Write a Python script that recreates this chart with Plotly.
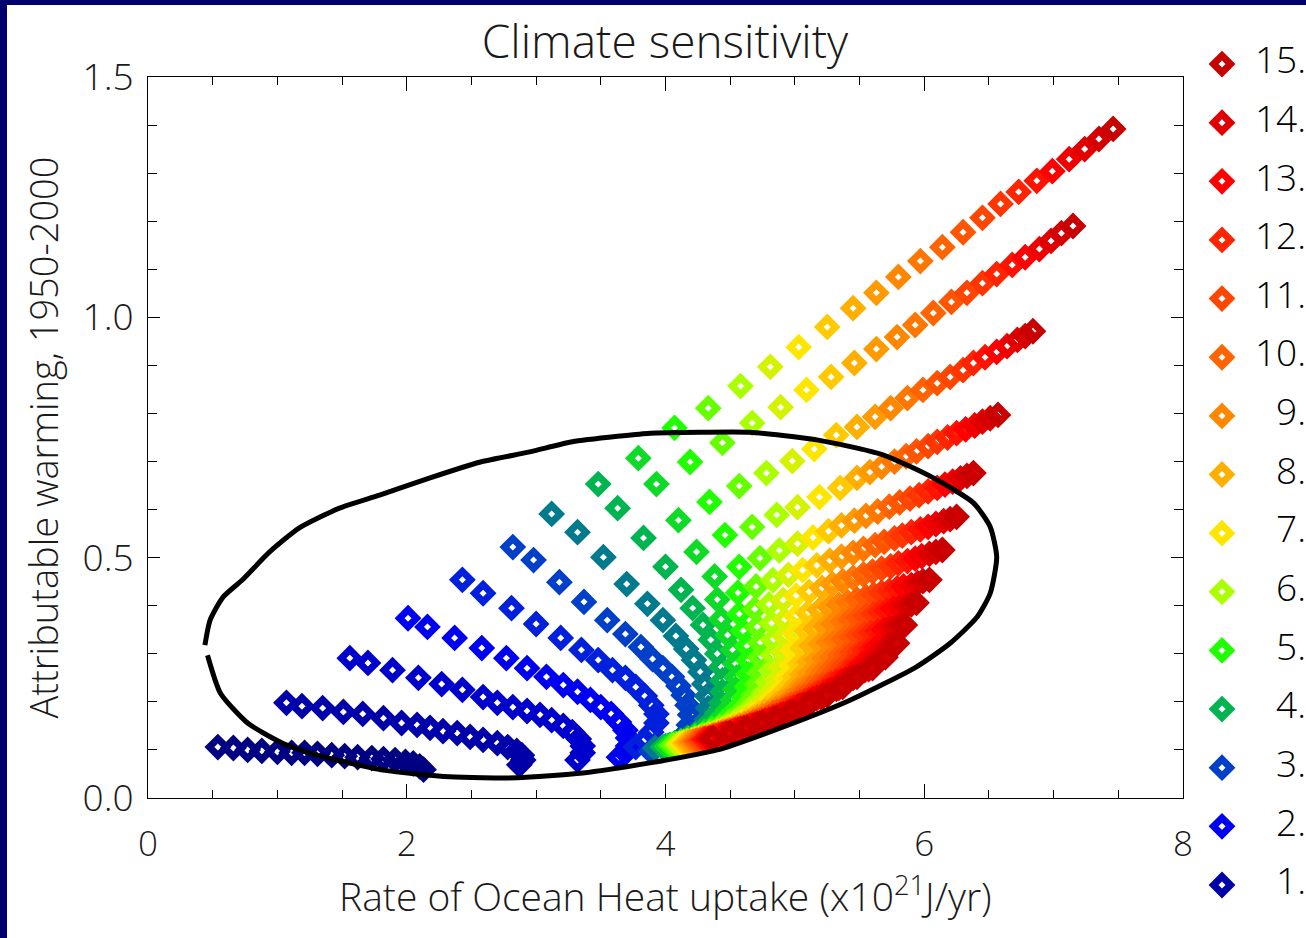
import plotly.graph_objects as go

# ---------------- data ----------------
sensitivity = [0.5, 1.0, 1.5, 2.0, 2.5, 3.0, 3.5, 4.0, 4.5, 5.0, 5.5, 6.0, 6.5, 7.0, 7.5,
               8.0, 8.5, 9.0, 9.5, 10.0, 10.5, 11.0, 11.5, 12.0, 12.5, 13.0, 13.5, 14.0, 14.5, 15.0]

x_s0_5 = [0.54, 0.66, 0.77, 0.88, 1.00, 1.11, 1.21, 1.31, 1.42, 1.52, 1.62, 1.73, 1.82, 1.91, 1.99, 2.05, 2.10, 2.13]
y_s0_5 = [0.106, 0.104, 0.100, 0.098, 0.096, 0.094, 0.094, 0.092, 0.089, 0.087, 0.085, 0.083, 0.081, 0.079, 0.075, 0.072, 0.066, 0.059]
x_s1_0 = [1.07, 1.19, 1.35, 1.51, 1.66, 1.82, 1.96, 2.08, 2.18, 2.28, 2.39, 2.49, 2.59, 2.70, 2.78, 2.85, 2.89, 2.90, 2.87]
y_s1_0 = [0.198, 0.191, 0.187, 0.179, 0.175, 0.166, 0.156, 0.152, 0.146, 0.139, 0.135, 0.127, 0.121, 0.114, 0.106, 0.098, 0.089, 0.079, 0.069]
x_s1_5 = [1.56, 1.70, 1.89, 2.09, 2.27, 2.43, 2.59, 2.70, 2.82, 2.93, 3.03, 3.12, 3.21, 3.28, 3.33, 3.36, 3.36, 3.32]
y_s1_5 = [0.291, 0.281, 0.266, 0.250, 0.237, 0.225, 0.210, 0.198, 0.189, 0.181, 0.173, 0.162, 0.150, 0.137, 0.123, 0.108, 0.094, 0.079]
x_s2_0 = [2.01, 2.16, 2.37, 2.58, 2.77, 2.93, 3.08, 3.21, 3.32, 3.42, 3.50, 3.58, 3.64, 3.69, 3.71, 3.71, 3.69, 3.64]
y_s2_0 = [0.374, 0.356, 0.333, 0.312, 0.291, 0.270, 0.252, 0.235, 0.221, 0.204, 0.189, 0.175, 0.158, 0.141, 0.125, 0.108, 0.094, 0.085]
x_s2_5 = [2.43, 2.59, 2.81, 3.00, 3.19, 3.35, 3.48, 3.59, 3.69, 3.77, 3.84, 3.89, 3.93, 3.93, 3.89, 3.84, 3.77]
y_s2_5 = [0.454, 0.426, 0.395, 0.362, 0.333, 0.308, 0.287, 0.266, 0.250, 0.231, 0.212, 0.193, 0.175, 0.156, 0.137, 0.121, 0.106]
x_s3_0 = [2.82, 2.98, 3.18, 3.37, 3.55, 3.69, 3.81, 3.90, 3.98, 4.05, 4.10, 4.14, 4.17, 4.19, 4.18, 4.15, 4.09, 4.00, 3.89]
y_s3_0 = [0.522, 0.495, 0.449, 0.408, 0.370, 0.341, 0.314, 0.289, 0.270, 0.252, 0.233, 0.214, 0.193, 0.173, 0.152, 0.133, 0.116, 0.104, 0.096]
x_s3_5 = [3.12, 3.32, 3.52, 3.70, 3.86, 3.98, 4.08, 4.16, 4.22, 4.27, 4.30, 4.32, 4.33, 4.32, 4.29, 4.23, 4.13, 4.02, 3.92]
y_s3_5 = [0.591, 0.553, 0.501, 0.445, 0.404, 0.370, 0.337, 0.310, 0.287, 0.262, 0.237, 0.212, 0.187, 0.164, 0.144, 0.127, 0.114, 0.108, 0.104]
x_s4_0 = [3.48, 3.63, 3.83, 4.00, 4.12, 4.21, 4.29, 4.35, 4.40, 4.43, 4.44, 4.44, 4.43, 4.40, 4.35, 4.30, 4.23, 4.17, 4.12, 4.07, 4.03, 4.00, 3.98]
y_s4_0 = [0.653, 0.603, 0.541, 0.481, 0.433, 0.395, 0.360, 0.329, 0.300, 0.273, 0.245, 0.221, 0.198, 0.177, 0.160, 0.146, 0.133, 0.125, 0.119, 0.114, 0.110, 0.108, 0.106]
x_s4_5 = [3.79, 3.93, 4.10, 4.24, 4.38, 4.40, 4.43, 4.48, 4.52, 4.54, 4.55, 4.54, 4.52, 4.48, 4.43, 4.37, 4.30, 4.23, 4.18, 4.12, 4.08, 4.04, 4.01]
y_s4_5 = [0.707, 0.653, 0.578, 0.512, 0.461, 0.413, 0.372, 0.339, 0.308, 0.280, 0.251, 0.227, 0.204, 0.183, 0.166, 0.151, 0.138, 0.129, 0.123, 0.117, 0.113, 0.110, 0.107]
x_s5_0 = [4.07, 4.19, 4.34, 4.46, 4.57, 4.56, 4.57, 4.60, 4.63, 4.64, 4.64, 4.63, 4.61, 4.56, 4.50, 4.44, 4.36, 4.29, 4.23, 4.17, 4.12, 4.08, 4.04]
y_s5_0 = [0.770, 0.699, 0.616, 0.547, 0.481, 0.427, 0.383, 0.348, 0.316, 0.286, 0.257, 0.232, 0.209, 0.188, 0.171, 0.156, 0.143, 0.133, 0.126, 0.120, 0.115, 0.112, 0.109]
x_s5_5 = [4.33, 4.44, 4.57, 4.67, 4.73, 4.70, 4.69, 4.71, 4.73, 4.73, 4.73, 4.71, 4.68, 4.63, 4.57, 4.50, 4.42, 4.34, 4.28, 4.22, 4.16, 4.11, 4.06]
y_s5_5 = [0.811, 0.739, 0.649, 0.564, 0.499, 0.440, 0.393, 0.356, 0.323, 0.292, 0.261, 0.236, 0.213, 0.193, 0.175, 0.161, 0.147, 0.137, 0.129, 0.123, 0.118, 0.114, 0.110]
x_s6_0 = [4.58, 4.67, 4.78, 4.86, 4.88, 4.83, 4.80, 4.82, 4.83, 4.83, 4.82, 4.79, 4.76, 4.70, 4.63, 4.56, 4.48, 4.40, 4.33, 4.26, 4.20, 4.14, 4.09]
y_s6_0 = [0.857, 0.780, 0.676, 0.589, 0.515, 0.453, 0.403, 0.364, 0.329, 0.297, 0.266, 0.241, 0.218, 0.198, 0.180, 0.165, 0.151, 0.140, 0.132, 0.126, 0.120, 0.116, 0.111]
x_s6_5 = [4.81, 4.89, 4.98, 5.02, 5.02, 4.95, 4.91, 4.92, 4.92, 4.91, 4.89, 4.86, 4.82, 4.76, 4.69, 4.62, 4.53, 4.44, 4.37, 4.30, 4.23, 4.17, 4.11]
y_s6_5 = [0.897, 0.813, 0.701, 0.605, 0.529, 0.464, 0.412, 0.371, 0.336, 0.302, 0.271, 0.245, 0.222, 0.202, 0.184, 0.169, 0.155, 0.143, 0.135, 0.128, 0.122, 0.117, 0.112]
x_s7_0 = [5.03, 5.09, 5.15, 5.19, 5.14, 5.06, 5.01, 5.01, 5.00, 4.98, 4.97, 4.93, 4.89, 4.82, 4.75, 4.67, 4.58, 4.49, 4.41, 4.34, 4.26, 4.20, 4.13]
y_s7_0 = [0.938, 0.849, 0.726, 0.626, 0.542, 0.474, 0.421, 0.378, 0.341, 0.307, 0.275, 0.249, 0.226, 0.206, 0.188, 0.173, 0.158, 0.146, 0.137, 0.130, 0.124, 0.119, 0.113]
x_s7_5 = [5.25, 5.28, 5.32, 5.35, 5.26, 5.17, 5.11, 5.10, 5.09, 5.06, 5.04, 5.00, 4.95, 4.88, 4.80, 4.72, 4.63, 4.53, 4.45, 4.37, 4.30, 4.22, 4.15]
y_s7_5 = [0.980, 0.876, 0.755, 0.645, 0.555, 0.484, 0.429, 0.385, 0.347, 0.312, 0.279, 0.253, 0.230, 0.210, 0.192, 0.176, 0.162, 0.149, 0.140, 0.133, 0.126, 0.120, 0.114]
x_s8_0 = [5.45, 5.46, 5.48, 5.48, 5.36, 5.27, 5.21, 5.19, 5.16, 5.13, 5.11, 5.06, 5.01, 4.94, 4.86, 4.77, 4.67, 4.57, 4.49, 4.41, 4.33, 4.25, 4.17]
y_s8_0 = [1.019, 0.905, 0.772, 0.666, 0.567, 0.494, 0.437, 0.391, 0.352, 0.316, 0.283, 0.257, 0.234, 0.214, 0.195, 0.180, 0.165, 0.152, 0.142, 0.135, 0.128, 0.121, 0.115]
x_s8_5 = [5.63, 5.63, 5.62, 5.58, 5.46, 5.36, 5.29, 5.27, 5.24, 5.20, 5.17, 5.12, 5.06, 4.99, 4.90, 4.82, 4.71, 4.61, 4.52, 4.44, 4.36, 4.27, 4.19]
y_s8_5 = [1.051, 0.934, 0.793, 0.678, 0.577, 0.502, 0.445, 0.397, 0.357, 0.320, 0.287, 0.260, 0.237, 0.218, 0.198, 0.183, 0.168, 0.154, 0.144, 0.137, 0.130, 0.123, 0.116]
x_s9_0 = [5.80, 5.79, 5.74, 5.67, 5.55, 5.45, 5.37, 5.34, 5.30, 5.26, 5.23, 5.18, 5.11, 5.03, 4.95, 4.86, 4.75, 4.64, 4.55, 4.47, 4.38, 4.29, 4.21]
y_s9_0 = [1.084, 0.959, 0.811, 0.689, 0.587, 0.510, 0.451, 0.402, 0.362, 0.324, 0.290, 0.263, 0.240, 0.221, 0.201, 0.186, 0.171, 0.157, 0.146, 0.139, 0.131, 0.124, 0.117]
x_s9_5 = [5.97, 5.93, 5.87, 5.77, 5.64, 5.53, 5.45, 5.41, 5.37, 5.32, 5.29, 5.23, 5.16, 5.08, 4.99, 4.90, 4.79, 4.68, 4.58, 4.50, 4.41, 4.31, 4.23]
y_s9_5 = [1.117, 0.984, 0.832, 0.700, 0.596, 0.518, 0.458, 0.407, 0.366, 0.328, 0.293, 0.266, 0.243, 0.224, 0.205, 0.189, 0.174, 0.159, 0.148, 0.140, 0.133, 0.125, 0.118]
x_s10_0 = [6.14, 6.07, 5.99, 5.86, 5.73, 5.62, 5.53, 5.48, 5.43, 5.38, 5.35, 5.28, 5.21, 5.12, 5.03, 4.94, 4.83, 4.71, 4.62, 4.53, 4.43, 4.34, 4.24]
y_s10_0 = [1.146, 1.009, 0.849, 0.711, 0.606, 0.526, 0.465, 0.413, 0.371, 0.331, 0.297, 0.269, 0.246, 0.227, 0.208, 0.192, 0.177, 0.161, 0.150, 0.142, 0.134, 0.126, 0.119]
x_s10_5 = [6.30, 6.21, 6.10, 5.94, 5.81, 5.69, 5.60, 5.55, 5.49, 5.44, 5.40, 5.33, 5.26, 5.17, 5.07, 4.97, 4.86, 4.74, 4.65, 4.55, 4.46, 4.36, 4.26]
y_s10_5 = [1.177, 1.032, 0.863, 0.721, 0.615, 0.533, 0.471, 0.418, 0.375, 0.335, 0.300, 0.272, 0.249, 0.230, 0.210, 0.194, 0.179, 0.163, 0.152, 0.144, 0.136, 0.127, 0.119]
x_s11_0 = [6.45, 6.33, 6.20, 6.03, 5.89, 5.77, 5.67, 5.61, 5.55, 5.49, 5.45, 5.38, 5.31, 5.21, 5.11, 5.01, 4.90, 4.78, 4.67, 4.58, 4.48, 4.37, 4.27]
y_s11_0 = [1.207, 1.051, 0.876, 0.732, 0.623, 0.540, 0.477, 0.423, 0.379, 0.338, 0.303, 0.275, 0.252, 0.233, 0.213, 0.197, 0.182, 0.165, 0.154, 0.145, 0.137, 0.128, 0.120]
x_s11_5 = [6.59, 6.45, 6.30, 6.10, 5.96, 5.83, 5.74, 5.67, 5.61, 5.54, 5.50, 5.43, 5.35, 5.25, 5.15, 5.04, 4.93, 4.80, 4.70, 4.60, 4.50, 4.39, 4.29]
y_s11_5 = [1.236, 1.071, 0.890, 0.741, 0.630, 0.546, 0.482, 0.427, 0.383, 0.341, 0.305, 0.277, 0.254, 0.236, 0.216, 0.199, 0.184, 0.167, 0.156, 0.147, 0.138, 0.129, 0.121]
x_s12_0 = [6.73, 6.56, 6.38, 6.18, 6.03, 5.90, 5.80, 5.73, 5.66, 5.59, 5.54, 5.47, 5.39, 5.28, 5.18, 5.08, 4.96, 4.83, 4.73, 4.63, 4.52, 4.41, 4.30]
y_s12_0 = [1.261, 1.090, 0.905, 0.750, 0.638, 0.553, 0.488, 0.431, 0.387, 0.344, 0.308, 0.280, 0.257, 0.238, 0.218, 0.202, 0.186, 0.169, 0.157, 0.148, 0.139, 0.130, 0.122]
x_s12_5 = [6.87, 6.68, 6.47, 6.25, 6.10, 5.97, 5.87, 5.79, 5.71, 5.64, 5.59, 5.52, 5.43, 5.32, 5.22, 5.11, 4.99, 4.86, 4.75, 4.65, 4.54, 4.43, 4.31]
y_s12_5 = [1.284, 1.109, 0.917, 0.759, 0.645, 0.559, 0.493, 0.436, 0.390, 0.347, 0.311, 0.282, 0.259, 0.241, 0.221, 0.204, 0.188, 0.171, 0.159, 0.150, 0.141, 0.131, 0.122]
x_s13_0 = [6.99, 6.78, 6.56, 6.32, 6.16, 6.03, 5.93, 5.84, 5.76, 5.69, 5.63, 5.55, 5.46, 5.36, 5.25, 5.14, 5.02, 4.89, 4.77, 4.67, 4.56, 4.44, 4.33]
y_s13_0 = [1.304, 1.125, 0.928, 0.767, 0.652, 0.564, 0.498, 0.440, 0.394, 0.350, 0.313, 0.285, 0.262, 0.243, 0.223, 0.206, 0.190, 0.173, 0.161, 0.151, 0.142, 0.132, 0.123]
x_s13_5 = [7.12, 6.89, 6.64, 6.39, 6.22, 6.09, 5.98, 5.90, 5.81, 5.73, 5.68, 5.59, 5.50, 5.39, 5.28, 5.17, 5.04, 4.91, 4.80, 4.69, 4.58, 4.46, 4.34]
y_s13_5 = [1.329, 1.142, 0.940, 0.775, 0.658, 0.570, 0.503, 0.443, 0.397, 0.353, 0.315, 0.287, 0.264, 0.246, 0.225, 0.208, 0.192, 0.174, 0.162, 0.152, 0.143, 0.133, 0.123]
x_s14_0 = [7.24, 6.98, 6.72, 6.45, 6.28, 6.15, 6.04, 5.95, 5.86, 5.77, 5.72, 5.63, 5.54, 5.42, 5.32, 5.20, 5.07, 4.94, 4.82, 4.71, 4.60, 4.47, 4.35]
y_s14_0 = [1.350, 1.159, 0.953, 0.783, 0.665, 0.576, 0.508, 0.447, 0.400, 0.355, 0.318, 0.289, 0.266, 0.248, 0.227, 0.210, 0.194, 0.176, 0.163, 0.154, 0.144, 0.134, 0.124]
x_s14_5 = [7.35, 7.06, 6.78, 6.51, 6.33, 6.20, 6.09, 5.99, 5.90, 5.81, 5.75, 5.67, 5.57, 5.45, 5.34, 5.22, 5.10, 4.96, 4.84, 4.73, 4.61, 4.49, 4.36]
y_s14_5 = [1.371, 1.175, 0.961, 0.790, 0.670, 0.580, 0.512, 0.451, 0.403, 0.358, 0.320, 0.291, 0.268, 0.250, 0.229, 0.212, 0.196, 0.178, 0.165, 0.155, 0.145, 0.134, 0.124]
x_s15_0 = [7.46, 7.15, 6.84, 6.57, 6.38, 6.25, 6.14, 6.04, 5.94, 5.85, 5.79, 5.70, 5.60, 5.48, 5.37, 5.25, 5.12, 4.98, 4.86, 4.75, 4.63, 4.50, 4.37]
y_s15_0 = [1.392, 1.190, 0.971, 0.797, 0.676, 0.585, 0.516, 0.454, 0.406, 0.360, 0.322, 0.293, 0.270, 0.252, 0.231, 0.214, 0.198, 0.179, 0.166, 0.156, 0.146, 0.135, 0.125]

# confidence region outline
ellipse_x = [0.44, 0.48, 0.58, 0.73, 0.94, 1.17, 1.48, 1.79, 2.18, 2.57, 2.95, 3.28, 3.65, 3.88, 4.27, 4.65,
             5.17, 5.68, 6.07, 6.38, 6.51, 6.56, 6.51, 6.41, 6.20, 5.94, 5.43, 4.91, 4.40, 3.88, 3.36, 2.85,
             2.33, 1.82, 1.31, 1.04, 0.77, 0.56, 0.46]
ellipse_y = [0.318, 0.370, 0.418, 0.454, 0.512, 0.562, 0.603, 0.630, 0.666, 0.699, 0.720, 0.741, 0.753, 0.759,
             0.761, 0.761, 0.745, 0.714, 0.666, 0.614, 0.564, 0.501, 0.426, 0.377, 0.322, 0.273, 0.204, 0.148,
             0.100, 0.073, 0.052, 0.042, 0.044, 0.058, 0.089, 0.114, 0.156, 0.218, 0.297]

legend_values = [15, 14, 13, 12, 11, 10, 9, 8, 7, 6, 5, 4, 3, 2, 1]
legend_labels = ["15.", "14.", "13.", "12.", "11.", "10.", "9.", "8.", "7.", "6.", "5.", "4.", "3.", "2.", "1."]

title_text = "Climate sensitivity"
x_title_text = "Rate of Ocean Heat uptake (x10<sup>21</sup>J/yr)"
y_title_text = "Attributable warming, 1950-2000"

# ---------------- style ----------------
row_colors = ["#000082", "#0000AA", "#0000CD", "#0000F0", "#0020DC", "#0040C8", "#007A8C", "#00B450",
              "#10DA28", "#20FF00", "#65FF00", "#AAFF00", "#D5F300", "#FFE600", "#FFCB00", "#FFAF00",
              "#FF9B00", "#FF8700", "#FF7600", "#FF6400", "#FF5500", "#FF4600", "#FF3500", "#FF2300",
              "#FF1200", "#FF0000", "#F00000", "#E10000", "#D50000", "#C80000"]
legend_colors = ["#C80000", "#E10000", "#FF0000", "#FF2300", "#FF4600", "#FF6400", "#FF8700", "#FFAF00",
                 "#FFE600", "#AAFF00", "#20FF00", "#00B450", "#0040C8", "#0000F0", "#0000AA"]

rows_x = [x_s0_5, x_s1_0, x_s1_5, x_s2_0, x_s2_5, x_s3_0, x_s3_5, x_s4_0, x_s4_5, x_s5_0, x_s5_5, x_s6_0,
          x_s6_5, x_s7_0, x_s7_5, x_s8_0, x_s8_5, x_s9_0, x_s9_5, x_s10_0, x_s10_5, x_s11_0, x_s11_5,
          x_s12_0, x_s12_5, x_s13_0, x_s13_5, x_s14_0, x_s14_5, x_s15_0]
rows_y = [y_s0_5, y_s1_0, y_s1_5, y_s2_0, y_s2_5, y_s3_0, y_s3_5, y_s4_0, y_s4_5, y_s5_0, y_s5_5, y_s6_0,
          y_s6_5, y_s7_0, y_s7_5, y_s8_0, y_s8_5, y_s9_0, y_s9_5, y_s10_0, y_s10_5, y_s11_0, y_s11_5,
          y_s12_0, y_s12_5, y_s13_0, y_s13_5, y_s14_0, y_s14_5, y_s15_0]

FONT = "Open Sans, DejaVu Sans, sans-serif"
FW = 300
TXT = "#1a1a1a"
MSIZE = 13
MLINE = 7

fig = go.Figure()
for s, xs, ys, col in zip(sensitivity, rows_x, rows_y, row_colors):
    fig.add_trace(go.Scatter(
        x=xs, y=ys, mode="markers", name=str(s), showlegend=False, hoverinfo="skip",
        marker=dict(symbol="diamond-open", size=MSIZE, color=col, line=dict(width=MLINE, color=col)),
        xaxis="x", yaxis="y"))

fig.add_trace(go.Scatter(
    x=ellipse_x, y=ellipse_y, mode="lines", showlegend=False, hoverinfo="skip",
    line=dict(color="black", width=5, shape="spline", smoothing=0.6), xaxis="x", yaxis="y"))

# legend column at the right
fig.add_trace(go.Scatter(
    x=[0] * len(legend_values), y=legend_values, mode="markers", showlegend=False, hoverinfo="skip",
    marker=dict(symbol="diamond-open", size=MSIZE, color=legend_colors, line=dict(width=MLINE, color=legend_colors)),
    xaxis="x2", yaxis="y2", cliponaxis=False))
fig.add_trace(go.Scatter(
    x=[1.0] * len(legend_values), y=legend_values, mode="text", text=legend_labels,
    textposition="middle left", textfont=dict(family=FONT, size=37, color="black", weight=FW),
    showlegend=False, hoverinfo="skip", xaxis="x2", yaxis="y2", cliponaxis=False))

W, H = 1306, 938
L = 148
axis_common = dict(showline=True, linecolor="black", linewidth=1, mirror="ticks", ticks="inside",
                   tickcolor="black", tickwidth=1, showgrid=False, zeroline=False, automargin=False)

fig.update_layout(
    width=W, height=H,
    margin=dict(l=L, r=0, t=0, b=0),
    paper_bgcolor="white", plot_bgcolor="white",
    title=dict(text=title_text, x=(665 - L) / (W - L), xref="paper", xanchor="center",
               y=1 - 42 / H, yref="container", yanchor="middle",
               font=dict(family=FONT, size=46, color=TXT, weight=FW)),
    xaxis=dict(domain=[0, (1183 - L) / (W - L)], range=[0, 8], dtick=2, tick0=0, ticklen=14,
               minor=dict(dtick=0.5, ticks="inside", ticklen=8, tickcolor="black", showgrid=False),
               tickfont=dict(family=FONT, size=35, color=TXT, weight=FW),
               ticklabelstandoff=15, anchor="y", **axis_common),
    yaxis=dict(domain=[(H - 798) / H, (H - 77) / H], range=[0, 1.5], dtick=0.5, tick0=0, ticklen=12,
               tickformat=".1f",
               minor=dict(dtick=0.1, ticks="inside", ticklen=9, tickcolor="black", showgrid=False),
               tickfont=dict(family=FONT, size=37, color=TXT, weight=FW),
               ticklabelstandoff=6,
               title=dict(text=y_title_text, standoff=12,
                          font=dict(family=FONT, size=38, color=TXT, weight=FW)),
               anchor="x", **axis_common),
    xaxis2=dict(domain=[0.9, 1.0], range=[-0.3786, 1.0], visible=False, anchor="y2"),
    yaxis2=dict(domain=[0, 1], range=[0.0962, 16.092], visible=False, anchor="x2"),
    annotations=[
        dict(text=x_title_text, xref="paper", yref="paper", x=(665.5 - L) / (W - L), y=(H - 894) / H,
             xanchor="center", yanchor="middle", showarrow=False,
             font=dict(family=FONT, size=39, color=TXT, weight=FW)),
    ],
    shapes=[
        dict(type="rect", xref="paper", yref="paper", x0=-L / (W - L), x1=(7 - L) / (W - L), y0=0, y1=1,
             fillcolor="#00006E", line=dict(width=0), layer="above"),
        dict(type="rect", xref="paper", yref="paper", x0=-L / (W - L), x1=1.0, y0=1 - 5 / H, y1=1,
             fillcolor="#00006E", line=dict(width=0), layer="above"),
    ],
)

fig.write_html(
    "out.html",
    config={"displayModeBar": False, "staticPlot": True},
    post_script="document.body.style.margin='0px';document.body.style.overflow='hidden';"
                "document.documentElement.style.overflow='hidden';")
